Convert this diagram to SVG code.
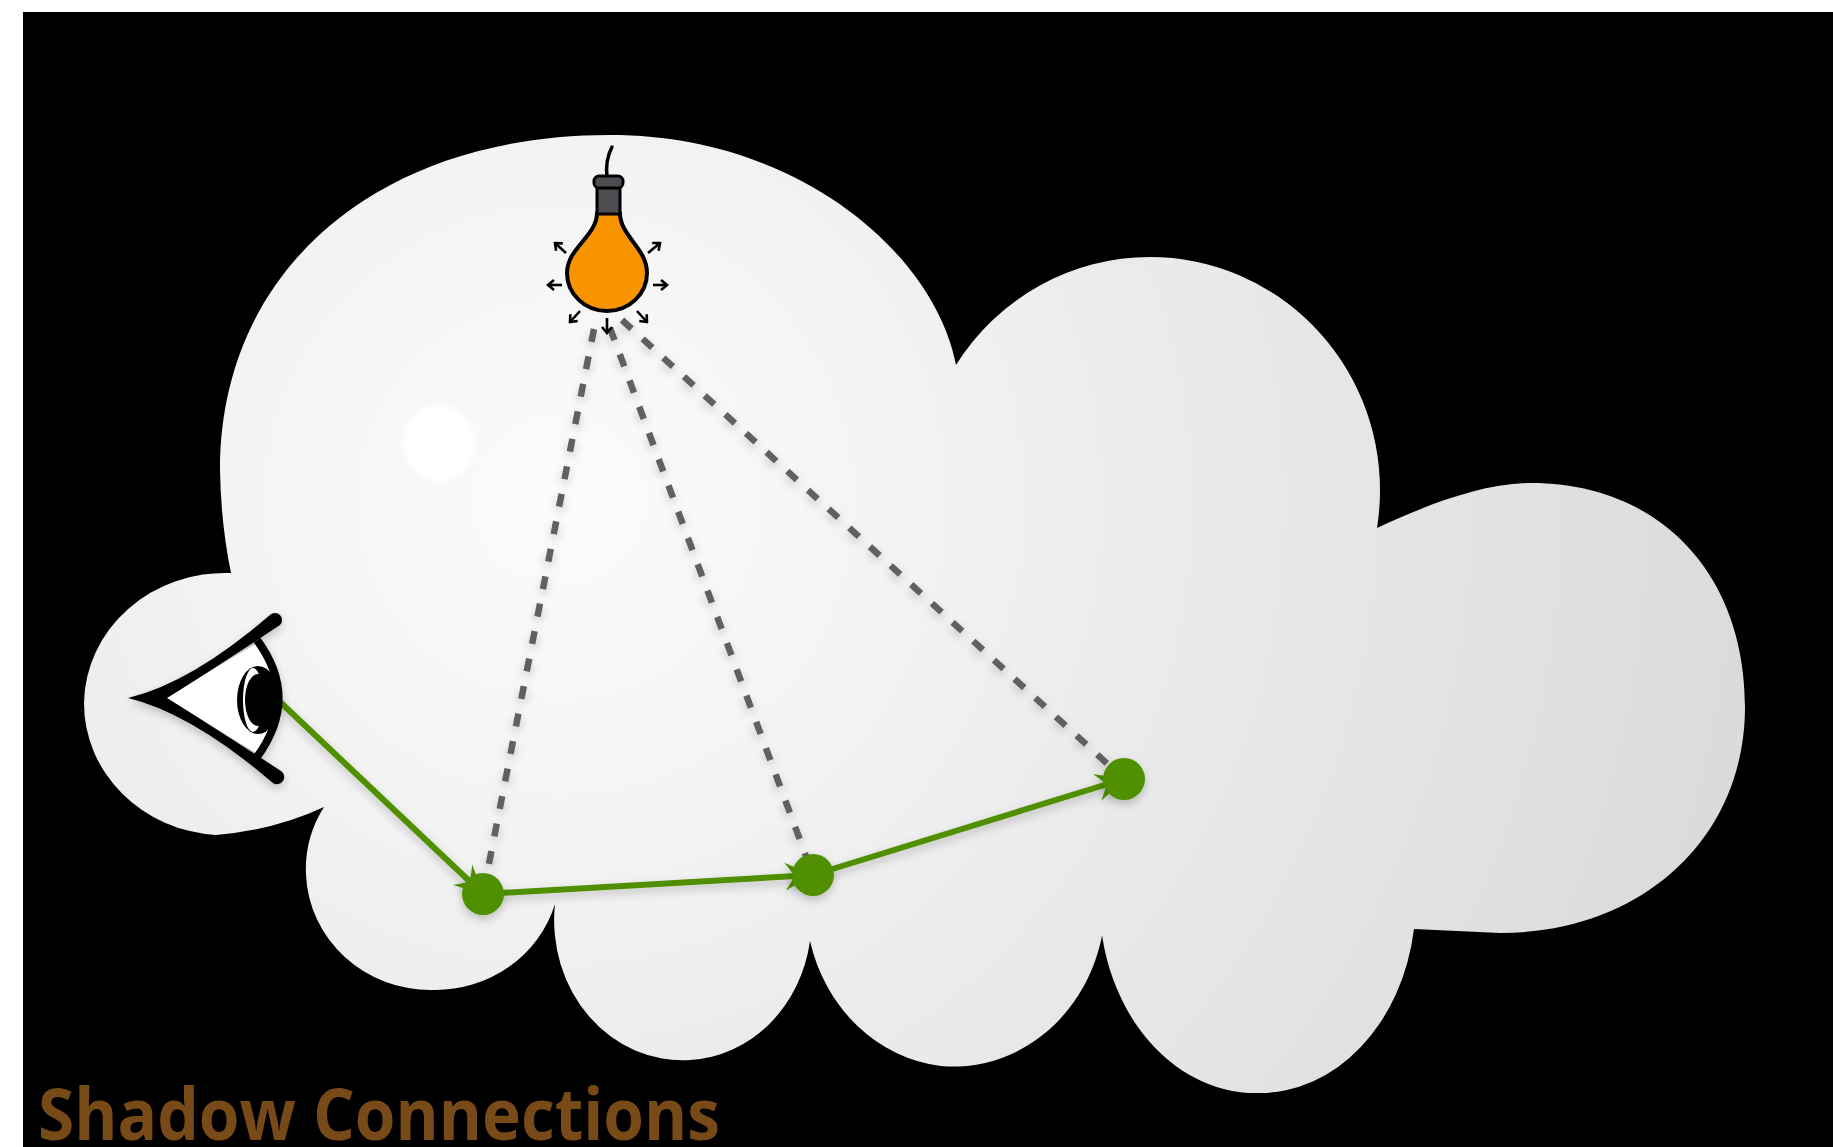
<svg xmlns="http://www.w3.org/2000/svg" width="1833" height="1147" viewBox="0 0 1833 1147">
  <defs>
    <radialGradient id="cloudFill" gradientUnits="userSpaceOnUse" cx="560" cy="500" r="1250">
      <stop offset="0" stop-color="#fbfbfb"/>
      <stop offset="0.15" stop-color="#f7f7f7"/>
      <stop offset="0.3" stop-color="#f2f2f3"/>
      <stop offset="0.45" stop-color="#ececed"/>
      <stop offset="0.6" stop-color="#e6e7e8"/>
      <stop offset="0.75" stop-color="#e1e2e3"/>
      <stop offset="1" stop-color="#d8d9da"/>
    </radialGradient>
    <radialGradient id="gloss" cx="0.5" cy="0.5" r="0.5">
      <stop offset="0" stop-color="#ffffff"/>
      <stop offset="0.8" stop-color="#ffffff"/>
      <stop offset="1" stop-color="#ffffff" stop-opacity="0"/>
    </radialGradient>
    <filter id="shadow" filterUnits="userSpaceOnUse" x="0" y="0" width="1833" height="1147">
      <feGaussianBlur in="SourceAlpha" stdDeviation="5"/>
      <feOffset dx="0" dy="4" result="b"/>
      <feComponentTransfer in="b" result="s">
        <feFuncA type="linear" slope="0.22"/>
      </feComponentTransfer>
      <feMerge>
        <feMergeNode in="s"/>
        <feMergeNode in="SourceGraphic"/>
      </feMerge>
    </filter>
    <marker id="greenHead" markerUnits="userSpaceOnUse" viewBox="-30 -16 32 32" markerWidth="32" markerHeight="32" refX="0" refY="0" orient="auto">
      <path d="M0,0 L-28,-14 L-18,0 L-28,14 Z" fill="#4f8f00"/>
    </marker>
    <marker id="rayHead" markerUnits="userSpaceOnUse" viewBox="-9 -7 11 14" markerWidth="11" markerHeight="14" refX="0" refY="0" orient="auto">
      <path d="M-6,-5 L0,0 L-6,5" fill="none" stroke="#000" stroke-width="2.6"/>
    </marker>
    <style>
      .dash { fill: none; stroke: #606060; stroke-width: 6.5; stroke-dasharray: 13 15; }
      .path { fill: none; stroke: #4f8f00; stroke-width: 6; marker-end: url(#greenHead); }
      .node { fill: #4f8f00; }
      .ray { fill: none; stroke: #000; stroke-width: 2.6; marker-end: url(#rayHead); }
      .title { font-family: "Open Sans", "DejaVu Sans", sans-serif; font-weight: 700; font-size: 72px; fill: #784a18; }
    </style>
  </defs>

  <!-- page and black backdrop -->
  <rect x="0" y="0" width="1833" height="1147" fill="#ffffff"/>
  <rect x="23" y="12" width="1810" height="1135" fill="#000000"/>

  <!-- cloud -->
  <g id="cloud">
    <path fill="url(#cloudFill)" d="M 231,573 Q 221,525 220,470 C 220,270 377,135 610,135 C 800,135 935,255 956,365
      A 230 233 0 0 1 1150,257 A 230 233 0 0 1 1380,490 A 230 233 0 0 1 1377,528
      C 1420,508 1480,483 1531,483 C 1659,483 1745,573 1745,707 C 1745,838 1642,933 1500,933 L 1414,929
      A 156 193 0 0 1 1258,1093 A 156 193 0 0 1 1102,865
      A 152 166 0 0 1 941,1066 A 152 166 0 0 1 810,941
      A 128 140 0 0 1 690,1060 A 128 140 0 0 1 555,904
      A 125 120 0 0 1 432,990 A 125 120 0 0 1 306,875 A 125 120 0 0 1 324,807
      Q 275,830 216,835 A 141 132 0 0 1 84,703 A 141 132 0 0 1 231,573 Z"/>
    <ellipse cx="439" cy="443" rx="40" ry="42" fill="url(#gloss)"/>
  </g>

  <!-- connectors -->
  <g id="connectors" filter="url(#shadow)">
    <line class="dash" x1="594" y1="329" x2="483" y2="894"/>
    <line class="dash" x1="610" y1="328" x2="813" y2="875"/>
    <line class="dash" x1="622" y1="320" x2="1124" y2="779"/>
    <line class="path" x1="278" y1="700" x2="483" y2="894"/>
    <line class="path" x1="483" y1="894" x2="813" y2="875"/>
    <line class="path" x1="813" y1="875" x2="1124" y2="779"/>
  </g>

  <!-- path vertices -->
  <g id="vertex-1" filter="url(#shadow)"><circle class="node" cx="483" cy="894" r="21"/></g>
  <g id="vertex-2" filter="url(#shadow)"><circle class="node" cx="813" cy="875" r="21"/></g>
  <g id="vertex-3" filter="url(#shadow)"><circle class="node" cx="1124" cy="779" r="21"/></g>

  <!-- light source -->
  <g id="light">
    <path d="M 612,147 Q 605,160 607,178" fill="none" stroke="#000" stroke-width="3.5" stroke-linecap="round"/>
    <line class="ray" x1="566" y1="253" x2="555" y2="243"/>
    <line class="ray" x1="648" y1="253" x2="660" y2="243"/>
    <line class="ray" x1="562" y1="285" x2="548" y2="285"/>
    <line class="ray" x1="653" y1="285" x2="667" y2="285"/>
    <line class="ray" x1="580" y1="311" x2="570" y2="322"/>
    <line class="ray" x1="637" y1="311" x2="647" y2="322"/>
    <line class="ray" x1="607" y1="318" x2="607" y2="333"/>
    <path d="M 597,213 C 597,236 567,248 567,273 A 40 38 0 0 0 647,273 C 647,248 620,236 620,213 Z" fill="#f79400" stroke="#000" stroke-width="4" stroke-linejoin="round"/>
    <rect x="597" y="182" width="23" height="32" fill="#4d4d52" stroke="#000" stroke-width="3"/>
    <rect x="594" y="176" width="29" height="12" rx="5" fill="#4d4d52" stroke="#000" stroke-width="3"/>
  </g>

  <!-- viewer -->
  <g id="eye" filter="url(#shadow)">
    <path d="M 167,698 Q 215,668 260,642 Q 300,698 260,755 Q 215,728 167,698 Z" fill="#ffffff"/>
    <path d="M 128,698 Q 191,683 270,615 A 5.5 5.5 0 0 1 280,625 Q 215,668 167,698 Q 215,728 281,771 A 5.5 5.5 0 0 1 273,783 Q 191,713 128,698 Z" fill="#000"/>
    <path d="M 257,640 Q 300,698 257,757" fill="none" stroke="#000" stroke-width="8"/>
    <ellipse cx="258" cy="700" rx="21" ry="34" fill="#000"/>
    <ellipse cx="253" cy="700" rx="10" ry="32" fill="#ffffff"/>
    <ellipse cx="258" cy="700" rx="13" ry="26" fill="#000"/>
  </g>

  <text class="title" x="38" y="1140" textLength="682" lengthAdjust="spacingAndGlyphs">Shadow Connections</text>
</svg>
